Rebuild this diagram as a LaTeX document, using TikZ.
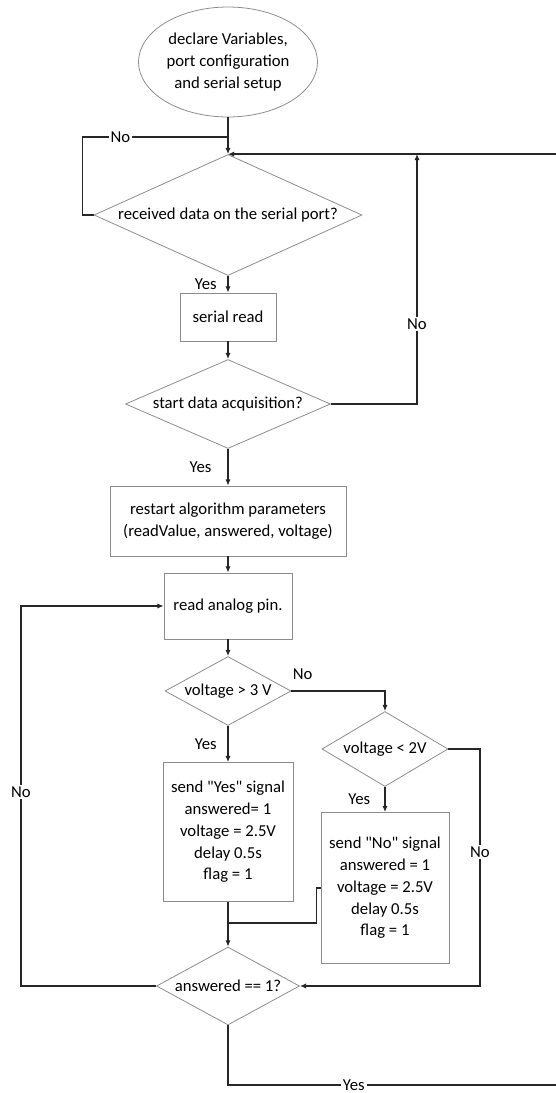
\documentclass[tikz,border=0pt]{standalone}
\usepackage{fontspec}
\setmainfont{Carlito}
\usetikzlibrary{arrows.meta,shapes.geometric}
\tikzset{>={Latex[length=3.5pt,width=3pt]}}
\tikzset{
	block/.style={draw=black!45, line width=0.45pt, rectangle, align=center, inner sep=0pt},
	decision/.style={draw=black!45, line width=0.45pt, diamond, align=center, inner sep=0pt},
	startstate/.style={draw=black!45, line width=0.45pt, ellipse, align=center, inner sep=0pt},
	flow/.style={draw=black!85, line width=0.9pt},
	answer/.style={fill=white, inner sep=1pt},
}

\begin{document}
\begin{tikzpicture}[x=0.02cm, y=-0.02cm, font=\fontsize{9.5}{12.4}\selectfont]

	\useasboundingbox (0,0) rectangle (555,1093);

	\node[startstate, minimum width=35.8mm, minimum height=22mm](start) at (228,62) {declare Variables,\\port configuration\\and serial setup};

	\node[decision, aspect=2.2, minimum width=53.6mm, minimum height=24.2mm](received) at (228,215) {received data on the serial port?};

	\node[block, minimum width=19.2mm, minimum height=9.6mm](serialread) at (228,317) {serial read};

	\node[decision, aspect=2.3, minimum width=41mm, minimum height=17.8mm](acquire) at (228,404) {start data acquisition?};

	\node[block, minimum width=47.2mm, minimum height=14mm](restart) at (228,521) {restart algorithm parameters\\(readValue, answered, voltage)};

	\node[block, minimum width=25.6mm, minimum height=13.2mm](readpin) at (228,606) {read analog pin.};

	% Voltage checks

	\node[decision, aspect=1.83, minimum width=25.2mm, minimum height=13.8mm](high) at (228,691) {voltage > 3 V};

	\node[decision, aspect=1.68, minimum width=25.2mm, minimum height=15mm](low) at (385,749) {voltage < 2V};

	\node[block, minimum width=26mm, minimum height=27.8mm](sendyes) at (228,832) {send \textquotedbl Yes\textquotedbl{} signal\\answered= 1\\voltage = 2.5V\\delay 0.5s\\flag = 1};

	\node[block, minimum width=25.6mm, minimum height=30.2mm](sendno) at (385,888) {send \textquotedbl No\textquotedbl{} signal\\answered = 1\\voltage = 2.5V\\delay 0.5s\\flag = 1};

	\node[decision, aspect=1.83, minimum width=28.6mm, minimum height=15.6mm](answered) at (228,986) {answered == 1?};

	% Corners

	\coordinate (nojoin) at (228,137);
	\coordinate (loopin) at (417,154);
	\coordinate (farright) at (570,1085);
	\coordinate (rightturn) at (480,986);
	\coordinate (merge) at (228,923);
	\coordinate (leftturn) at (21,606);

	% Arrows

	\draw [flow, ->] (start) to (received);
	\draw [flow] (received.west) -- ++(-11,0) |- node[answer, pos=0.63]{No} (nojoin);

	\draw [flow, ->] (received) to node[left=5pt, inner sep=1pt]{Yes} (serialread);
	\draw [flow, ->] (serialread) to (acquire);
	\draw [flow, ->] (acquire.east) -| node[answer, pos=0.66]{No} (loopin);

	\draw [flow, ->] (acquire) to node[left=8pt, inner sep=1pt]{Yes} (restart);
	\draw [flow, ->] (restart) to (readpin);
	\draw [flow, ->] (readpin) to (high);

	\draw [flow, ->] (high.east) -| node[above=5pt, pos=0.06, inner sep=1pt]{No} (low.north);
	\draw [flow, ->] (high) to node[left=5pt, inner sep=1pt]{Yes} (sendyes);
	\draw [flow, ->] (low) to node[left=7pt, inner sep=1pt]{Yes} (sendno);
	\draw [flow, ->] (low.east) -| node[answer, pos=0.717]{No} (rightturn) -- (answered.east);

	\draw [flow, ->] (sendyes) to (answered);
	\draw [flow] (sendno.west) -- ++(-4,0) |- (merge);

	\draw [flow, ->] (answered.west) -| node[answer, pos=0.755]{No} (leftturn) -- (readpin.west);
	\draw [flow, ->] (answered.south) |- node[answer, pos=0.684]{Yes} (farright) |- (received.north);

\end{tikzpicture}
\end{document}
